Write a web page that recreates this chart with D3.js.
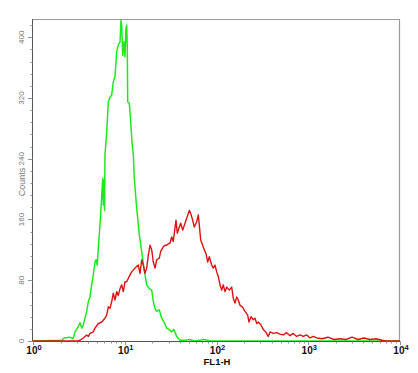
<!DOCTYPE html>
<html>
<head>
<meta charset="utf-8">
<script src="https://cdn.jsdelivr.net/npm/d3@7"></script>
<style>
  body { margin: 0; background: #fff; }
  svg { display: block; font-family: "Liberation Sans", Arial, sans-serif; }
</style>
</head>
<body>
<div id="chart"></div>
<script>
// green histogram (FL1-H value, counts)
const greenFL1 = [1, 2.06, 2.18, 2.53, 2.73, 2.87, 3.12, 3.25, 3.40, 3.53, 3.85, 4.01, 4.18, 4.36, 4.54, 4.74, 4.86, 5.02, 5.15, 5.37, 5.51,
  5.75, 5.84, 5.94, 6.03, 6.09, 6.36, 6.62, 6.91, 7.21, 7.50, 7.83, 8.17, 8.51, 8.88, 9.10, 9.26, 9.50, 9.81, 10.06, 10.3, 10.5, 10.66,
  10.77, 11.21, 11.61, 12.0, 12.4, 12.71, 13.5, 14.41, 15.3, 15.93, 16.62, 17.35, 18.52, 19.67, 20.48, 21.37, 22.3, 23.81, 25.27, 26.77,
  28.66, 30.59, 32.49, 34.42, 36.84, 40.0, 46.0, 51.4, 57.0, 66.0, 74.9, 84.9, 10000];
const greenCounts = [0, 1, 4, 5, 3, 12, 19, 24, 17, 21, 39, 52, 58, 74, 87, 104, 107, 100, 122, 153, 175,
  214, 179, 212, 172, 245, 275, 315, 321, 324, 341, 348, 381, 390, 394, 422, 416, 376, 394, 374, 411, 416, 385,
  315, 313, 289, 262, 245, 214, 175, 140, 118, 102, 87, 74, 69, 67, 52, 43, 39, 41, 30, 25,
  17, 15, 12, 15, 6, 1, 1, 2, 0, 1, 2, 0, 0];

// red histogram (FL1-H value, counts)
const redFL1 = [1, 3.1, 3.25, 3.53, 3.85, 4.01, 4.18, 4.54, 4.74, 5.15, 5.61, 6.09, 6.36, 6.62, 6.91, 7.21, 7.50, 7.83, 8.17, 8.51, 8.88,
  9.26, 9.64, 10.06, 10.5, 11.41, 11.9, 12.93, 14.05, 14.66, 15.3, 15.93, 16.62, 17.35, 18.06, 18.84, 19.67, 20.48, 21.37, 22.3, 23.81,
  24.65, 26.31, 27.46, 28.66, 29.84, 31.13, 32.49, 33.82, 35.29, 36.18, 37.39, 39.31, 40.73, 42.82, 45.36, 48.05, 50.52, 52.33, 55.03,
  57.28, 60.83, 63.32, 64.93, 67.25, 70.71, 73.62, 76.84, 80.19, 83.47, 88.64, 92.29, 96.3, 100.5, 104.6, 109.2, 114, 118.6, 123.8,
  129.2, 137.9, 146.5, 152.5, 159.1, 166.1, 172.9, 180.4, 191.1, 204.5, 218.8, 226.1, 237.7, 251.8, 262.8, 274.3, 285.5, 305.5,
  323.7, 343.8, 366.9, 382.9, 416, 453, 492, 535, 582, 633, 687, 748, 813, 883, 962, 1045, 1135, 1236, 1413, 1641, 1908, 2218,
  2578, 2997, 3484, 4050, 4708, 5473, 6362, 7000, 10000];
const redCounts = [0, 0, 1, 4, 8, 6, 10, 12, 17, 23, 25, 30, 34, 45, 43, 52, 63, 54, 65, 60, 69,
  74, 65, 78, 78, 87, 91, 96, 100, 89, 107, 100, 89, 96, 113, 126, 120, 104, 96, 107, 109,
  118, 124, 126, 126, 128, 129, 137, 131, 149, 159, 142, 150, 155, 146, 155, 164, 172, 168, 159,
  150, 157, 166, 153, 133, 126, 120, 115, 104, 111, 100, 96, 100, 91, 85, 74, 67, 74, 65,
  71, 67, 71, 56, 50, 58, 54, 47, 45, 39, 34, 25, 32, 28, 30, 23, 25, 21,
  15, 12, 6, 12, 10, 11, 9, 8, 11, 7, 10, 6, 8, 6, 8, 4, 6, 4, 3, 5, 2, 3,
  2, 5, 2, 4, 2, 3, 1, 0, 0];

const yTicks = [0, 80, 160, 240, 320, 400];
const xTicks = [0, 1, 2, 3, 4]; // decade exponents

const width = 418, height = 373;
const margin = { left: 33, right: 18, top: 19, bottom: 32 };

const svg = d3.select("#chart").append("svg")
  .attr("width", width)
  .attr("height", height);

const x = d3.scaleLog().domain([1, 10000]).range([margin.left, width - margin.right]);
const y = d3.scaleLinear().domain([0, 424]).range([height - margin.bottom, margin.top]);

const x0 = x.range()[0], x1 = x.range()[1];
const y0 = y.range()[0], y1 = y.range()[1];

// frame: top + right light gray
svg.append("path")
  .attr("d", `M${x0},${y1 + 0.5}H${x1 - 0.5}V${y0}`)
  .attr("fill", "none")
  .attr("stroke", "#9a9a9a")
  .attr("stroke-width", 1.2);

// histogram lines
const line = d3.line()
  .x((d) => x(d[0]))
  .y((d) => y(d[1]));

svg.append("path")
  .datum(greenFL1.map((v, i) => [v, greenCounts[i]]))
  .attr("fill", "none")
  .attr("stroke", "#1ee81e")
  .attr("stroke-width", 1.5)
  .attr("stroke-linejoin", "round")
  .attr("d", line);

svg.append("path")
  .datum(redFL1.map((v, i) => [v, redCounts[i]]))
  .attr("fill", "none")
  .attr("stroke", "#dd1111")
  .attr("stroke-width", 1.4)
  .attr("stroke-linejoin", "round")
  .attr("d", line);

// left axis
svg.append("line")
  .attr("x1", x0 - 0.5).attr("x2", x0 - 0.5)
  .attr("y1", y1).attr("y2", y0)
  .attr("stroke", "#555");

const yMinor = d3.range(0, 424, 16);
svg.append("g")
  .selectAll("line")
  .data(yMinor)
  .enter()
  .append("line")
  .attr("x1", (d) => x0 - (yTicks.includes(d) ? 5 : 2.5))
  .attr("x2", x0)
  .attr("y1", (d) => Math.round(y(d)) + 0.5)
  .attr("y2", (d) => Math.round(y(d)) + 0.5)
  .attr("stroke", "#777")
  .attr("stroke-width", 0.8);

svg.append("g")
  .selectAll("text")
  .data(yTicks)
  .enter()
  .append("text")
  .attr("transform", (d) => `translate(24,${y(d)}) rotate(-90)`)
  .attr("text-anchor", "middle")
  .attr("fill", "#777")
  .style("font-size", "8px")
  .text((d) => d);

svg.append("text")
  .attr("transform", `translate(25,182) rotate(-90)`)
  .attr("text-anchor", "middle")
  .attr("fill", "#777")
  .style("font-size", "9px")
  .text("Counts");

// bottom axis
svg.append("line")
  .attr("x1", x0).attr("x2", x1)
  .attr("y1", y0 + 0.5).attr("y2", y0 + 0.5)
  .attr("stroke", "#555");

const xMinor = [];
for (let e = 0; e < 4; e++) {
  for (let m = 1; m < 10; m++) xMinor.push(m * Math.pow(10, e));
}
xMinor.push(10000);

svg.append("g")
  .selectAll("line")
  .data(xMinor)
  .enter()
  .append("line")
  .attr("x1", (d) => Math.round(x(d)) + 0.5)
  .attr("x2", (d) => Math.round(x(d)) + 0.5)
  .attr("y1", y0)
  .attr("y2", (d) => y0 + (Math.log10(d) % 1 === 0 ? 4 : 2.5))
  .attr("stroke", "#777")
  .attr("stroke-width", 0.8);

const xLabels = svg.append("g")
  .selectAll("text")
  .data(xTicks)
  .enter()
  .append("text")
  .attr("x", (d) => x(Math.pow(10, d)) + 1)
  .attr("y", 354)
  .attr("text-anchor", "middle")
  .attr("fill", "#111")
  .style("font-size", "10px")
  .style("font-weight", "bold");

xLabels.append("tspan").text("10");
xLabels.append("tspan")
  .attr("dy", -4)
  .style("font-size", "7.5px")
  .text((d) => d);

svg.append("text")
  .attr("x", 217)
  .attr("y", 365)
  .attr("text-anchor", "middle")
  .attr("fill", "#111")
  .style("font-size", "9.5px")
  .style("font-weight", "bold")
  .text("FL1-H");
</script>
</body>
</html>
